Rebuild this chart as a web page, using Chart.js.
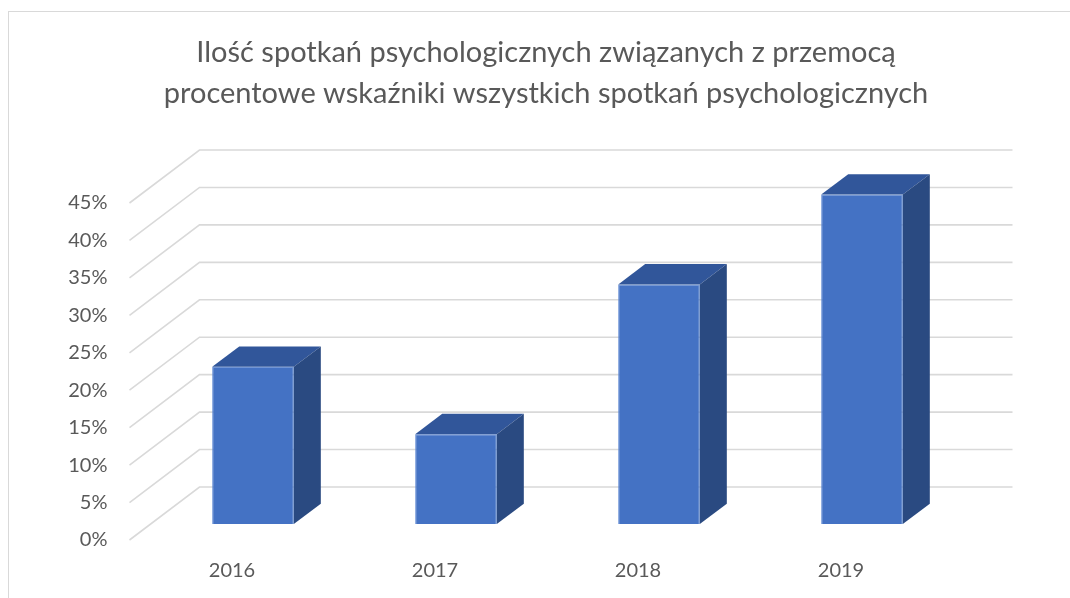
<!DOCTYPE html>
<html>
<head>
<meta charset="utf-8">
<script src="https://cdn.jsdelivr.net/npm/chart.js@4.4.1/dist/chart.umd.min.js"></script>
<style>
  html, body { margin: 0; padding: 0; background: #ffffff; overflow: hidden; }
  #frame { position: absolute; left: 8px; top: 11px; width: 1090px; height: 620px; border: 1px solid #d9d9d9; box-sizing: border-box; }
  #wrap { position: absolute; left: 0; top: 0; width: 1070px; height: 598px; }
</style>
</head>
<body>
<div id="frame"></div>
<div id="wrap"><canvas id="c" width="1070" height="598"></canvas></div>
<script>
// ---- data ----
const categories = ['2016', '2017', '2018', '2019'];
const values = [21, 12, 32, 44];
const yTicks = [0, 5, 10, 15, 20, 25, 30, 35, 40, 45];
const titleLines = [
  'Ilość spotkań psychologicznych związanych z przemocą',
  'procentowe wskaźniki wszystkich spotkań psychologicznych'
];

// ---- 3D geometry (styling) ----
const DEPTH_X = 70, DEPTH_Y = -53;        // full floor depth
const BAR_FRONT = 0.30;                    // bar front plane position in depth
const BAR_DEPTH = 0.386;                   // bar depth as fraction of floor depth
const GRID_COLOR = '#d9d9d9';

const grid3d = {
  id: 'grid3d',
  beforeDatasetsDraw(chart) {
    const { ctx, chartArea, scales } = chart;
    const y = scales.y;
    ctx.save();
    ctx.strokeStyle = GRID_COLOR;
    ctx.lineWidth = 1.6;
    y.ticks.forEach(t => {
      const py = y.getPixelForValue(t.value);
      const x0 = chartArea.left - 1;
      ctx.beginPath();
      ctx.moveTo(x0, py);
      ctx.lineTo(x0 + DEPTH_X, py + DEPTH_Y);
      ctx.lineTo(chartArea.right + DEPTH_X, py + DEPTH_Y);
      ctx.stroke();
    });
    ctx.restore();
    // shift bars into the depth of the plot
    ctx.save();
    ctx.translate(DEPTH_X * BAR_FRONT, DEPTH_Y * BAR_FRONT);
  },
  afterDatasetsDraw(chart) {
    const { ctx } = chart;
    const dx = DEPTH_X * BAR_DEPTH, dy = DEPTH_Y * BAR_DEPTH;
    const meta = chart.getDatasetMeta(0);
    meta.data.forEach(bar => {
      const p = bar.getProps(['x', 'y', 'base', 'width'], true);
      const l = p.x - p.width / 2, r = p.x + p.width / 2;
      const top = p.y, base = p.base;
      // top face
      ctx.beginPath();
      ctx.moveTo(l, top);
      ctx.lineTo(l + dx, top + dy);
      ctx.lineTo(r + dx, top + dy);
      ctx.lineTo(r, top);
      ctx.closePath();
      ctx.fillStyle = '#31569A';
      ctx.fill();
      // side face
      ctx.beginPath();
      ctx.moveTo(r, top);
      ctx.lineTo(r + dx, top + dy);
      ctx.lineTo(r + dx, base + dy);
      ctx.lineTo(r, base);
      ctx.closePath();
      ctx.fillStyle = '#2A4A81';
      ctx.fill();
    });
    ctx.restore();
  }
};

new Chart(document.getElementById('c'), {
  type: 'bar',
  data: {
    labels: categories,
    datasets: [{
      data: values,
      backgroundColor: '#4472C4',
      borderColor: '#5A86D2',
      borderWidth: 1,
      categoryPercentage: 1,
      barPercentage: 0.402
    }]
  },
  options: {
    responsive: false,
    animation: false,
    layout: { padding: { left: 22, right: 0, top: 0, bottom: 0 } },
    plugins: {
      legend: { display: false },
      tooltip: { enabled: false },
      title: {
        display: true,
        text: titleLines,
        color: '#595959',
        font: { family: 'Lato', size: 29, weight: 'normal', lineHeight: 1.414 },
        padding: { top: 32, bottom: 89 }
      }
    },
    scales: {
      x: {
        grid: { display: false, drawTicks: false },
        border: { display: false },
        ticks: { color: '#595959', font: { family: 'Lato', size: 20 }, padding: 19 },
        afterFit(s) { s.height = 58; }
      },
      y: {
        min: 0, max: 45,
        afterBuildTicks(s) { s.ticks = yTicks.map(v => ({ value: v })); },
        grid: { display: false, drawTicks: false },
        border: { display: false },
        ticks: { color: '#595959', font: { family: 'Lato', size: 20 }, padding: 23, callback: v => v + '%' },
        afterFit(s) { s.width = 108.5; }
      },
      y2: {
        position: 'right',
        display: true,
        grid: { display: false, drawTicks: false },
        border: { display: false },
        ticks: { display: false },
        afterFit(s) { s.width = 127.5; }
      }
    }
  },
  plugins: [grid3d]
});
</script>
</body>
</html>
